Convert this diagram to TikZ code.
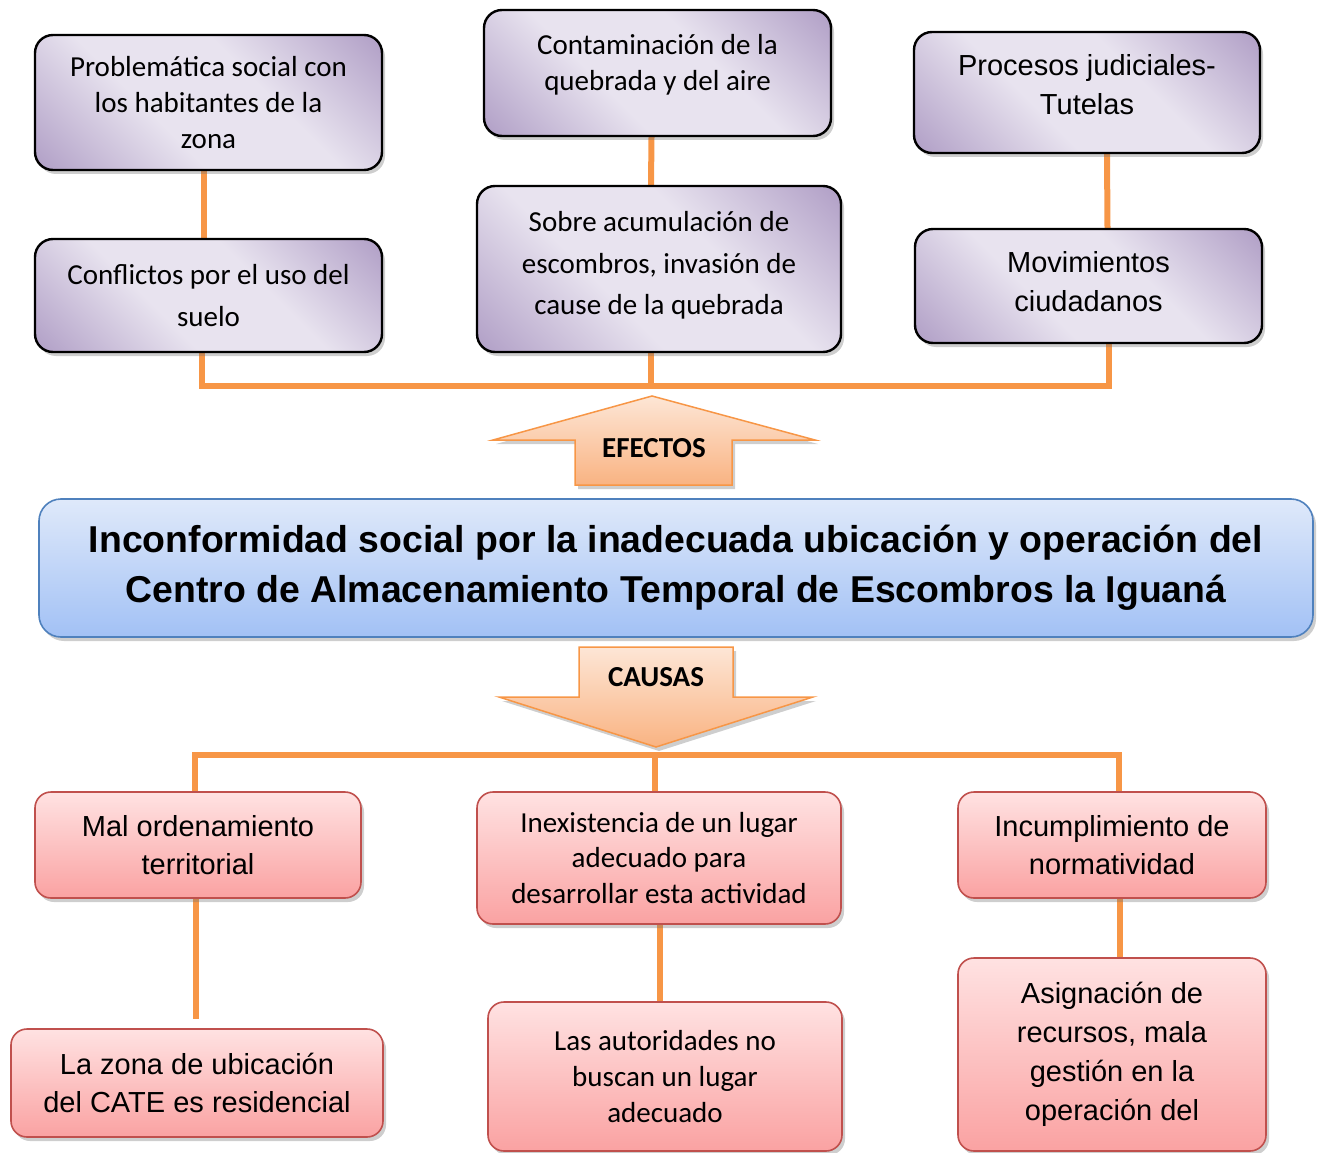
\documentclass[tikz,border=0pt]{standalone}
\usepackage{fontspec}
\setmainfont{Carlito}
\newfontfamily\arialfont{Liberation Sans}
\usetikzlibrary{shadows,backgrounds}

\definecolor{linkorange}{HTML}{F79646}
\definecolor{purpdark}{HTML}{B3A2C8}
\definecolor{purplight}{HTML}{E8E3EF}
\definecolor{redtop}{HTML}{FFE2E2}
\definecolor{redbot}{HTML}{FAA2A2}
\definecolor{redline}{HTML}{C0504D}
\definecolor{bluetop}{HTML}{DFE9FA}
\definecolor{bluebot}{HTML}{A2C1F5}
\definecolor{blueline}{HTML}{4F81BD}
\definecolor{arrtop}{HTML}{FDE6D6}
\definecolor{arrbot}{HTML}{F9B382}

\pgfdeclarehorizontalshading{purpdiag}{100bp}{color(0bp)=(purpdark); color(16bp)=(purpdark); color(40bp)=(purplight); color(60bp)=(purplight); color(84bp)=(purpdark); color(100bp)=(purpdark)}

\tikzset{
  softshadow/.style={drop shadow={shadow xshift=3pt,shadow yshift=-4pt,fill=black!55,opacity=0.35}},
  effbox/.style={rectangle, rounded corners=18pt, draw=black, line width=2.4pt,
    shading=purpdiag, shading angle=45, softshadow, align=center, inner sep=0pt},
  causebox/.style={rectangle, rounded corners=16pt, draw=redline, line width=1.6pt,
    top color=redtop, bottom color=redbot, softshadow, align=center, inner sep=0pt},
  calibri/.style={font=\fontsize{29}{#1}\selectfont},
  calibri/.default=36,
  arial/.style={font=\arialfont\fontsize{29}{#1}\selectfont},
  arial/.default=38.5,
  link/.style={draw=linkorange, line width=6pt},
  bigarrow/.style={draw=linkorange, line width=1.5pt, top color=arrtop, bottom color=arrbot, softshadow}
}

\begin{document}
\begin{tikzpicture}[x=1pt,y=-1pt]
  \useasboundingbox (0,0) rectangle (1318,1153);

  \node[effbox,calibri,minimum width=347pt,minimum height=135pt] (probl) at (208.5,102.5)
    {Problemática social con\\los habitantes de la\\zona};
  \node[effbox,calibri,minimum width=347pt,minimum height=126pt,text depth=22pt] (contam) at (657.5,73)
    {Contaminación de la\\quebrada y del aire};
  \node[effbox,arial,minimum width=346pt,minimum height=121pt,text depth=16pt] (procesos) at (1087,92.5)
    {Procesos judiciales-\\Tutelas};
  \node[effbox,calibri=42,minimum width=347pt,minimum height=113pt] (conflic) at (208.5,295.5)
    {Conflictos por el uso del\\suelo};
  \node[effbox,calibri=41.5,minimum width=364pt,minimum height=166pt,text depth=12pt] (sobre) at (659,269)
    {Sobre acumulación de\\escombros, invasión de\\cause de la quebrada};
  \node[effbox,arial,minimum width=347pt,minimum height=114pt,text depth=9pt] (movim) at (1088.5,286)
    {Movimientos\\ciudadanos};

  \node[rectangle, rounded corners=22pt, draw=blueline, line width=1.6pt,
    top color=bluetop, bottom color=bluebot, softshadow, align=center, inner sep=0pt,
    minimum width=1274pt, minimum height=138pt,
    font=\arialfont\bfseries\fontsize{37.4}{50}\selectfont] (problema) at (676,568)
    {Inconformidad social por la inadecuada ubicación y operación del\\
     Centro de Almacenamiento Temporal de Escombros la Iguaná};

  \node[causebox,arial,minimum width=326pt,minimum height=106pt] (malord) at (198,845)
    {Mal ordenamiento\\territorial};
  \node[causebox,calibri=35.5,minimum width=364pt,minimum height=132pt] (inexist) at (659,858)
    {Inexistencia de un lugar\\adecuado para\\desarrollar esta actividad};
  \node[causebox,arial,minimum width=308pt,minimum height=106pt] (incumpl) at (1112,845)
    {Incumplimiento de\\normatividad};
  \node[causebox,arial,minimum width=372pt,minimum height=108pt] (zona) at (197,1083)
    {La zona de ubicación\\del CATE es residencial};
  \node[causebox,calibri,minimum width=354pt,minimum height=149pt] (autorid) at (665,1076.5)
    {Las autoridades no\\buscan un lugar\\adecuado};
  \node[causebox,arial=39,minimum width=308pt,minimum height=193pt] (asign) at (1112,1054.5)
    {Asignación de\\recursos, mala\\gestión en la\\operación del};

  \draw[bigarrow] (652,396) -- (815,440) -- (732,440) -- (732,485) -- (575,485) -- (575,440) -- (493,440) -- cycle;
  \node[font=\bfseries\fontsize{29}{34}\selectfont] (efectos) at (654,448) {EFECTOS};
  \draw[bigarrow] (579,647) -- (733,647) -- (733,697) -- (813,697) -- (656,747) -- (499,697) -- (579,697) -- cycle;
  \node[font=\bfseries\fontsize{29}{34}\selectfont] (causas) at (656,677) {CAUSAS};

  \coordinate (efbar) at (0,386);
  \coordinate (cabar) at (0,755);
  \begin{scope}[on background layer]
    \draw[link] ([xshift=-5pt]probl.south) -- ([xshift=-5pt]conflic.north);
    \draw[link] ([xshift=-6pt]contam.south) -- ([xshift=-8pt]sobre.north);
    \draw[link] ([xshift=20pt]procesos.south) -- ([xshift=19pt]movim.north);
    \draw[link] ([xshift=-7pt]conflic.south) |- ([xshift=20pt]movim.south |- efbar) -- ([xshift=20pt]movim.south);
    \draw[link] ([xshift=-8pt]sobre.south) -- ([xshift=-8pt]sobre.south |- efbar);
    \draw[link] ([xshift=-3pt]malord.north) |- ([xshift=7pt]incumpl.north |- cabar) -- ([xshift=7pt]incumpl.north);
    \draw[link] ([xshift=-4pt]inexist.north) -- ([xshift=-4pt]inexist.north |- cabar);
    \draw[link] ([xshift=-2pt]malord.south) -- ([xshift=-1pt,yshift=9pt]zona.north);
    \draw[link] ([xshift=1pt]inexist.south) -- ([xshift=-5pt]autorid.north);
    \draw[link] ([xshift=8pt]incumpl.south) -- ([xshift=8pt]asign.north);
  \end{scope}
\end{tikzpicture}
\end{document}
